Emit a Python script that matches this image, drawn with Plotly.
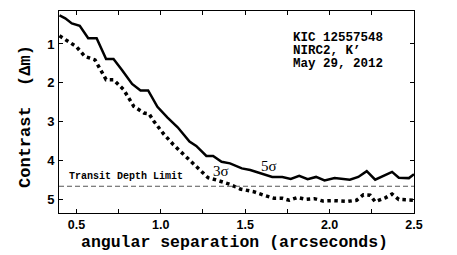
import plotly.graph_objects as go

# 5-sigma contrast curve
sep_5sig = [0.40, 0.434, 0.473, 0.52, 0.57, 0.62, 0.676, 0.72, 0.77, 0.83, 0.88, 0.925,
            0.98, 1.04, 1.10, 1.17, 1.21, 1.27, 1.31, 1.36, 1.41, 1.48, 1.53, 1.61,
            1.66, 1.72, 1.77, 1.82, 1.87, 1.92, 1.97, 2.03, 2.12, 2.17, 2.22, 2.27,
            2.33, 2.37, 2.41, 2.47, 2.50]
dm_5sig = [0.26, 0.34, 0.47, 0.53, 0.85, 0.85, 1.39, 1.39, 1.67, 2.03, 2.20, 2.20,
           2.62, 2.90, 3.15, 3.52, 3.63, 3.89, 3.89, 4.04, 4.08, 4.21, 4.25, 4.36,
           4.43, 4.43, 4.48, 4.40, 4.49, 4.43, 4.52, 4.46, 4.50, 4.43, 4.28, 4.50,
           4.38, 4.30, 4.45, 4.46, 4.36]

# 3-sigma contrast curve
sep_3sig = [0.40, 0.434, 0.50, 0.55, 0.61, 0.676, 0.72, 0.78, 0.84, 0.90, 0.93, 0.96,
            1.015, 1.075, 1.13, 1.18, 1.23, 1.28, 1.33, 1.41, 1.47, 1.55, 1.61, 1.67,
            1.72, 1.76, 1.81, 1.86, 1.91, 1.96, 2.02, 2.11, 2.16, 2.20, 2.24, 2.27,
            2.33, 2.37, 2.41, 2.50]
dm_3sig = [0.79, 0.88, 1.07, 1.32, 1.41, 1.92, 1.92, 2.18, 2.61, 2.78, 2.80, 3.00,
           3.31, 3.60, 3.82, 4.04, 4.25, 4.45, 4.51, 4.62, 4.74, 4.81, 4.90, 4.98,
           4.98, 5.03, 4.96, 5.01, 4.99, 5.05, 5.04, 5.06, 5.03, 4.89, 4.90, 5.07,
           4.97, 4.87, 5.01, 5.03]

transit_depth_limit = 4.67
x_range = [0.397, 2.5]
y_range = [5.36, 0.15]
x_tickvals = [0.5, 1.0, 1.5, 2.0, 2.5]
x_ticktext = ["0.5", "1.0", "1.5", "2.0", "2.5"]
y_tickvals = [1, 2, 3, 4, 5]
info_lines = ["KIC 12557548", "NIRC2, K\u2019", "May 29, 2012"]

mono = "Liberation Mono"
sans = "Liberation Sans"
serif = "Liberation Serif"

fig = go.Figure()
fig.add_trace(go.Scatter(x=sep_5sig, y=dm_5sig, mode="lines",
                         line=dict(color="black", width=2.5), showlegend=False))
fig.add_trace(go.Scatter(x=sep_3sig, y=dm_3sig, mode="lines",
                         line=dict(color="black", width=3.5, dash="3.5px,3.5px"),
                         showlegend=False))

fig.add_shape(type="line", xref="paper", x0=0, x1=1, yref="y",
              y0=transit_depth_limit, y1=transit_depth_limit,
              line=dict(color="#555555", width=1, dash="5px,3px"))

fig.add_annotation(x=0.445, y=transit_depth_limit, yshift=10, xanchor="left",
                   text="Transit Depth Limit", showarrow=False,
                   font=dict(family=mono, size=10, color="black", weight="bold"))
fig.add_annotation(x=1.30, y=4.28, xanchor="left", text="3\u03c3", showarrow=False,
                   font=dict(family=serif, size=15, color="black"))
fig.add_annotation(x=1.58, y=4.16, xanchor="left", text="5\u03c3", showarrow=False,
                   font=dict(family=serif, size=15, color="black"))

for i, line in enumerate(info_lines):
    fig.add_annotation(xref="paper", yref="paper", x=0.653, y=0.868 - i * 0.064,
                       xanchor="left", yanchor="middle", text=line, showarrow=False,
                       font=dict(family=mono, size=12.5, color="black", weight="bold"))

# axis titles
fig.add_annotation(xref="paper", yref="paper", x=0.493, y=-0.147,
                   xanchor="center", yanchor="middle", showarrow=False,
                   text="angular separation (arcseconds)",
                   font=dict(family=mono, size=16.5, color="black", weight="bold"))
fig.add_annotation(xref="paper", yref="paper", x=-0.096, y=0.48,
                   xanchor="center", yanchor="middle", showarrow=False, textangle=-90,
                   text="Contrast  (\u0394m)",
                   font=dict(family=mono, size=17, color="black", weight="bold"))

axis_common = dict(showline=True, linecolor="black", linewidth=1, mirror="allticks",
                   ticks="inside", ticklen=4, tickcolor="black", showgrid=False,
                   zeroline=False, automargin=False)

fig.update_xaxes(range=x_range, tickvals=x_tickvals, ticktext=x_ticktext,
                 tickfont=dict(family=sans, size=12.5, color="black", weight="bold"),
                 ticklabelstandoff=0,
                 minor=dict(dtick=0.25, tick0=0, ticks="inside", ticklen=4, tickcolor="black"),
                 **axis_common)
fig.update_yaxes(range=y_range, tickvals=y_tickvals,
                 tickfont=dict(family=sans, size=13, color="black", weight="bold"),
                 ticklabelstandoff=1,
                 **axis_common)

fig.update_layout(width=457, height=255, margin=dict(l=59, r=43, t=11, b=42),
                  paper_bgcolor="white", plot_bgcolor="white", showlegend=False)

fig.write_html("out.html", config={"displayModeBar": False},
               post_script="document.body.style.margin='0';document.body.style.padding='0';")
